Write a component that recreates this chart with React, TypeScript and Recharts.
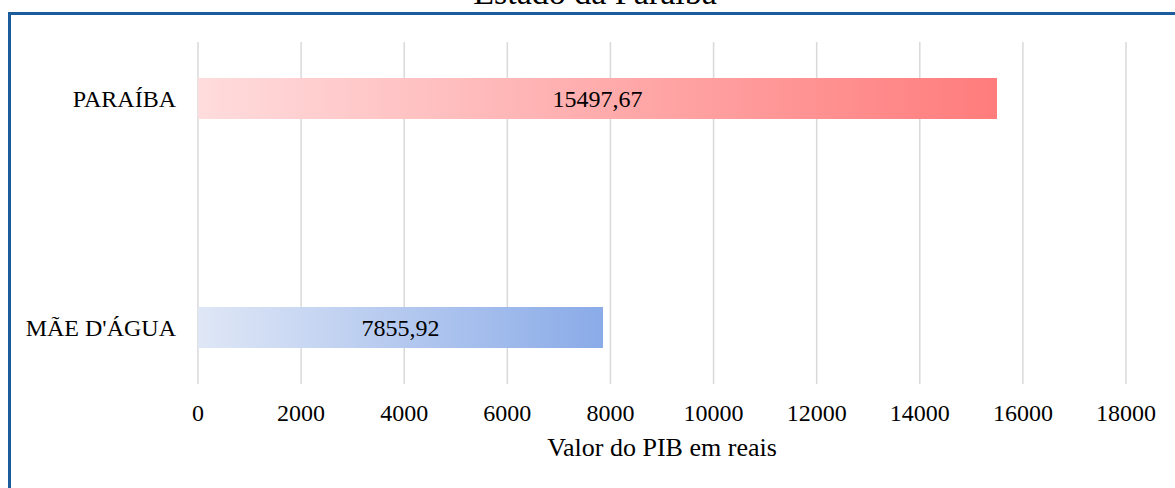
import React from 'react';
import { BarChart, Bar, XAxis, YAxis, CartesianGrid, Cell, LabelList } from 'recharts';

const categories = ['PARAÍBA', "MÃE D'ÁGUA"];
const pibValues = [15497.67, 7855.92];
const xTicks = [0, 2000, 4000, 6000, 8000, 10000, 12000, 14000, 16000, 18000];

const gradients = [
  { id: 'gradParaiba', from: '#ffdcdd', to: '#ff7c7c' },
  { id: 'gradMae', from: '#dfe7f6', to: '#8aabe8' },
];

const data = categories.map((name, i) => ({ name, value: pibValues[i] }));

const font = '"Liberation Serif", "Times New Roman", serif';
const serifText: React.CSSProperties = { fontFamily: font, fontSize: 24, fill: '#000' };

const fmt = (v: number) => v.toFixed(2).replace('.', ',');

// value label centred in the bar
const BarValue = (props: any) => {
  const { x, y, width, height, value } = props;
  return (
    <text
      x={Number(x) + Number(width) / 2}
      y={Number(y) + Number(height) / 2}
      dy="0.35em"
      textAnchor="middle"
      style={serifText}
    >
      {fmt(Number(value))}
    </text>
  );
};

const AxisTitle = (props: any) => {
  const { viewBox } = props;
  const cx = viewBox.x + viewBox.width / 2;
  return (
    <text x={cx} y={456} textAnchor="middle" style={{ ...serifText, fontSize: 26 }}>
      Valor do PIB em reais
    </text>
  );
};

const App: React.FC = () => {
  return (
    <div
      style={{
        position: 'absolute',
        left: 0,
        top: 0,
        width: 1175,
        height: 488,
        overflow: 'hidden',
        background: '#fff',
        fontFamily: font,
      }}
    >
      <div
        style={{
          position: 'absolute',
          left: 8,
          top: 12,
          width: 1300,
          height: 600,
          borderTop: '3px solid #1c5b9c',
          borderLeft: '3px solid #1c5b9c',
        }}
      />
      <div
        style={{
          position: 'absolute',
          left: 395,
          width: 400,
          top: -27,
          textAlign: 'center',
          fontSize: 34,
          lineHeight: '39px',
          color: '#000',
        }}
      >
        Estado da Paraíba
      </div>
      <div style={{ position: 'absolute', left: 0, top: 0 }}>
        <BarChart
          width={1175}
          height={488}
          data={data}
          layout="vertical"
          margin={{ top: 42, right: 49, left: 0, bottom: 0 }}
          style={{ fontFamily: font }}
        >
          <defs>
            {gradients.map((g) => (
              <linearGradient key={g.id} id={g.id} x1="0" y1="0" x2="1" y2="0">
                <stop offset="0%" stopColor={g.from} />
                <stop offset="100%" stopColor={g.to} />
              </linearGradient>
            ))}
          </defs>
          <CartesianGrid horizontal={false} stroke="#d9d9d9" strokeWidth={1.5} />
          <XAxis
            type="number"
            domain={[0, 18000]}
            ticks={xTicks}
            axisLine={false}
            tickLine={false}
            tickSize={0}
            tickMargin={20}
            height={104}
            interval={0}
            tick={{ fill: '#000', fontSize: 24, fontFamily: font }}
            label={<AxisTitle />}
          />
          <YAxis
            type="category"
            dataKey="name"
            width={198}
            axisLine={false}
            tickLine={false}
            tickSize={0}
            tickMargin={22}
            padding={{ top: -58, bottom: -58 }}
            tick={{ fill: '#000', fontSize: 24, fontFamily: font }}
          />
          <Bar dataKey="value" barSize={41} isAnimationActive={false}>
            {data.map((d, i) => (
              <Cell key={d.name} fill={`url(#${gradients[i].id})`} />
            ))}
            <LabelList dataKey="value" content={<BarValue />} />
          </Bar>
        </BarChart>
      </div>
    </div>
  );
};

export default App;
